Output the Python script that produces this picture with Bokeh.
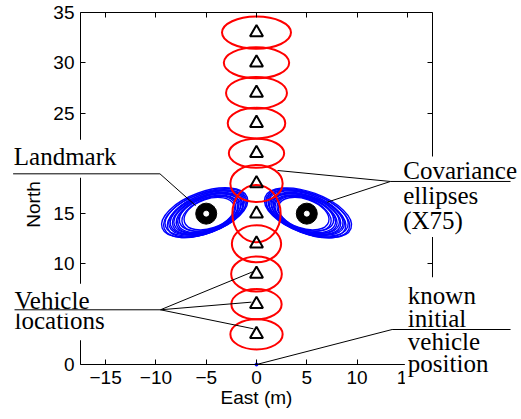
from bokeh.plotting import figure
from bokeh.models import Range1d, LinearAxis, FixedTicker, Label, Arrow, ColumnDataSource
from bokeh.embed import file_html
from bokeh.resources import INLINE

# ---------------- data ----------------
x_ticks = [-15, -10, -5, 0, 5, 10, 15]
y_ticks = [0, 5, 10, 15, 20, 25, 30, 35]
x_limits = (-17.5, 17.5)
y_limits = (0, 35)

# vehicle locations (East, North) and their covariance ellipse semi-axes (x75)
vehicle_east = [0, 0, 0, 0, 0, 0, 0, 0, 0, 0, 0]
vehicle_north = [3, 6, 9, 12, 15, 18, 21, 24, 27, 30, 33]
vehicle_semi_east = [2.60, 2.50, 2.52, 2.45, 2.40, 2.60, 2.75, 2.86, 3.03, 3.25, 3.43]
vehicle_semi_north = [1.50, 1.50, 1.74, 1.84, 2.85, 1.84, 1.45, 1.52, 1.58, 1.54, 1.60]

# known initial vehicle position
initial_east = [0]
initial_north = [0]

# landmarks
landmark_east = [-5, 5]
landmark_north = [15, 15]

# landmark covariance ellipses (x75): offsets from landmark, semi-axes, tilt (deg)
left_cov_dx = [-0.15, -0.11, -0.07, -0.04, 0.00, 0.03, 0.07, 0.10, 0.14, 0.18, 0.22, 0.26, 0.30]
left_cov_dy = [0.10, 0.05, 0.08, 0.00, 0.06, -0.02, 0.04, 0.00, 0.03, -0.03, 0.02, -0.02, 0.00]
left_cov_a = [4.50, 4.35, 4.20, 4.05, 3.90, 3.75, 3.60, 3.45, 3.30, 3.15, 3.00, 2.80, 2.60]
left_cov_b = [2.05, 2.00, 1.95, 1.90, 1.85, 1.80, 1.75, 1.70, 1.66, 1.62, 1.58, 1.52, 1.46]
left_cov_angle = [20, 21, 19, 22, 20, 18, 21, 19, 22, 20, 18, 21, 19]

right_cov_dx = [0.12, 0.09, 0.05, 0.02, -0.02, -0.05, -0.09, -0.12, -0.16, -0.20, -0.24, -0.27, -0.31]
right_cov_dy = [0.08, 0.04, 0.07, 0.01, 0.05, -0.03, 0.03, 0.01, 0.02, -0.02, 0.03, -0.01, 0.00]
right_cov_a = [4.55, 4.40, 4.25, 4.10, 3.95, 3.80, 3.65, 3.50, 3.35, 3.20, 3.02, 2.82, 2.62]
right_cov_b = [2.05, 2.00, 1.95, 1.90, 1.85, 1.80, 1.75, 1.70, 1.66, 1.62, 1.58, 1.52, 1.46]
right_cov_angle = [-20, -21, -19, -22, -20, -18, -21, -19, -22, -20, -18, -21, -19]

# ---------------- layout (pixels) ----------------
W, H = 521, 419
FRAME_L, FRAME_R, FRAME_T, FRAME_B = 80, 432, 12, 364
sx = (x_limits[1] - x_limits[0]) / (FRAME_R - FRAME_L)
sy = (y_limits[1] - y_limits[0]) / (FRAME_B - FRAME_T)
x_range = Range1d(x_limits[0] - FRAME_L * sx, x_limits[1] + (W - FRAME_R) * sx)
y_range = Range1d(y_limits[0] - (H - FRAME_B) * sy, y_limits[1] + FRAME_T * sy)

SERIF = "Liberation Serif"
SANS = "Liberation Sans"

p = figure(width=W, height=H, x_range=x_range, y_range=y_range,
           output_backend="svg", toolbar_location=None,
           min_border=0, min_border_left=0, min_border_right=0,
           min_border_top=0, min_border_bottom=0)
p.outline_line_color = None
p.grid.visible = False
p.background_fill_color = "white"
p.border_fill_color = "white"

xa = p.xaxis[0]
ya = p.yaxis[0]
xa.fixed_location = y_limits[0]
ya.fixed_location = x_limits[0]
xa.bounds = x_limits
ya.bounds = y_limits
xa.ticker = FixedTicker(ticks=x_ticks)
ya.ticker = FixedTicker(ticks=y_ticks)
xa.axis_label = "East (m)"
for ax in (xa, ya):
    ax.major_label_text_font = SANS
    ax.major_label_text_font_size = "19px"
    ax.major_label_text_color = "black"
    ax.axis_label_text_font = SANS
    ax.axis_label_text_font_size = "19px"
    ax.axis_label_text_font_style = "normal"
    ax.axis_label_text_color = "black"
    ax.axis_line_color = "black"
    ax.major_tick_line_color = "black"
    ax.major_tick_in = 5
    ax.major_tick_out = 0
    ax.minor_tick_line_color = None
    ax.major_label_standoff = 6
xa.axis_label_standoff = 0

top_ax = LinearAxis(ticker=FixedTicker(ticks=x_ticks), bounds=x_limits,
                    fixed_location=y_limits[1],
                    major_label_overrides={t: "" for t in x_ticks})
right_ax = LinearAxis(ticker=FixedTicker(ticks=y_ticks), bounds=y_limits,
                      fixed_location=x_limits[1],
                      major_label_overrides={t: "" for t in y_ticks})
for ax in (top_ax, right_ax):
    ax.major_label_text_font_size = "0px"
    ax.major_label_standoff = 0
    ax.axis_line_color = "black"
    ax.major_tick_line_color = "black"
    ax.major_tick_in = 5
    ax.major_tick_out = 0
    ax.minor_tick_line_color = None
p.add_layout(top_ax, "above")
p.add_layout(right_ax, "right")

# landmark covariance ellipses
p.ellipse(x=[landmark_east[0] + d for d in left_cov_dx],
          y=[landmark_north[0] + d for d in left_cov_dy],
          width=[2 * a for a in left_cov_a], height=[2 * b for b in left_cov_b],
          angle=left_cov_angle, angle_units="deg",
          fill_color=None, line_color="#0000ff", line_width=1.4)
p.ellipse(x=[landmark_east[1] + d for d in right_cov_dx],
          y=[landmark_north[1] + d for d in right_cov_dy],
          width=[2 * a for a in right_cov_a], height=[2 * b for b in right_cov_b],
          angle=right_cov_angle, angle_units="deg",
          fill_color=None, line_color="#0000ff", line_width=1.4)

# vehicle covariance ellipses
p.ellipse(x=vehicle_east, y=vehicle_north,
          width=[2 * a for a in vehicle_semi_east],
          height=[2 * b for b in vehicle_semi_north],
          fill_color=None, line_color="#ff0000", line_width=2)

# vehicle markers
p.scatter(vehicle_east, vehicle_north, marker="triangle", size=13,
          fill_color=None, line_color="black", line_width=2)

# landmark markers
p.scatter(landmark_east, landmark_north, marker="circle", size=21,
          fill_color="black", line_color="black")
p.scatter(landmark_east, landmark_north, marker="circle", size=5,
          fill_color="white", line_color="white")

# initial position
p.scatter(initial_east, initial_north, marker="circle", size=3,
          fill_color="#0000ff", line_color="#0000ff")

# ---------------- annotations ----------------
p.add_layout(Label(x=-22.13, y=15.91, text="North", angle=90, angle_units="deg",
                   text_font=SANS, text_font_size="19px", text_color="black",
                   text_align="center", text_baseline="middle"))

def add_label(txt, x, y, top=0, bottom=0):
    p.add_layout(Label(x=x, y=y, text=txt, text_font=SERIF, text_font_size="25px",
                       text_color="black", text_align="left", text_baseline="middle",
                       background_fill_color="white",
                       padding=dict(left=3, right=3, top=top, bottom=bottom)))

add_label("Landmark", -24.43, 20.45, top=3, bottom=8)

add_label("locations", -24.36, 4.05, bottom=6)
add_label("Vehicle", -24.36, 6.53, top=3)

add_label("(X75)", 14.29, 14.16, bottom=3)
add_label("ellipses", 14.29, 16.81)
add_label("Covariance", 14.29, 19.30, top=1)

add_label("known", 14.75, 7.08, top=5)
add_label("initial", 14.75, 4.62)
add_label("vehicle", 14.75, 2.30)
add_label("position", 14.75, -0.30, bottom=8)

leader = ColumnDataSource(dict(
    xs=[-24.2, -9.6, -24.06, -9.55, -9.55, -9.55, 13.32, 13.32, 13.32, 13.49, 13.49],
    ys=[18.96, 18.96, 5.44, 5.44, 5.44, 5.44, 18.2, 18.2, 18.2, 3.48, 3.48],
    xe=[-9.6, -6.05, -9.55, -0.3, -0.5, -0.3, 25.26, 2.09, 7.03, 25.26, initial_east[0]],
    ye=[18.96, 15.8, 5.44, 9.25, 6.2, 3.55, 18.2, 19.29, 16.14, 3.48, initial_north[0]],
))
p.add_layout(Arrow(end=None, source=leader, x_start="xs", y_start="ys",
                   x_end="xe", y_end="ye", line_color="black", line_width=1))

open("out.html", "w").write(file_html(p, INLINE))
